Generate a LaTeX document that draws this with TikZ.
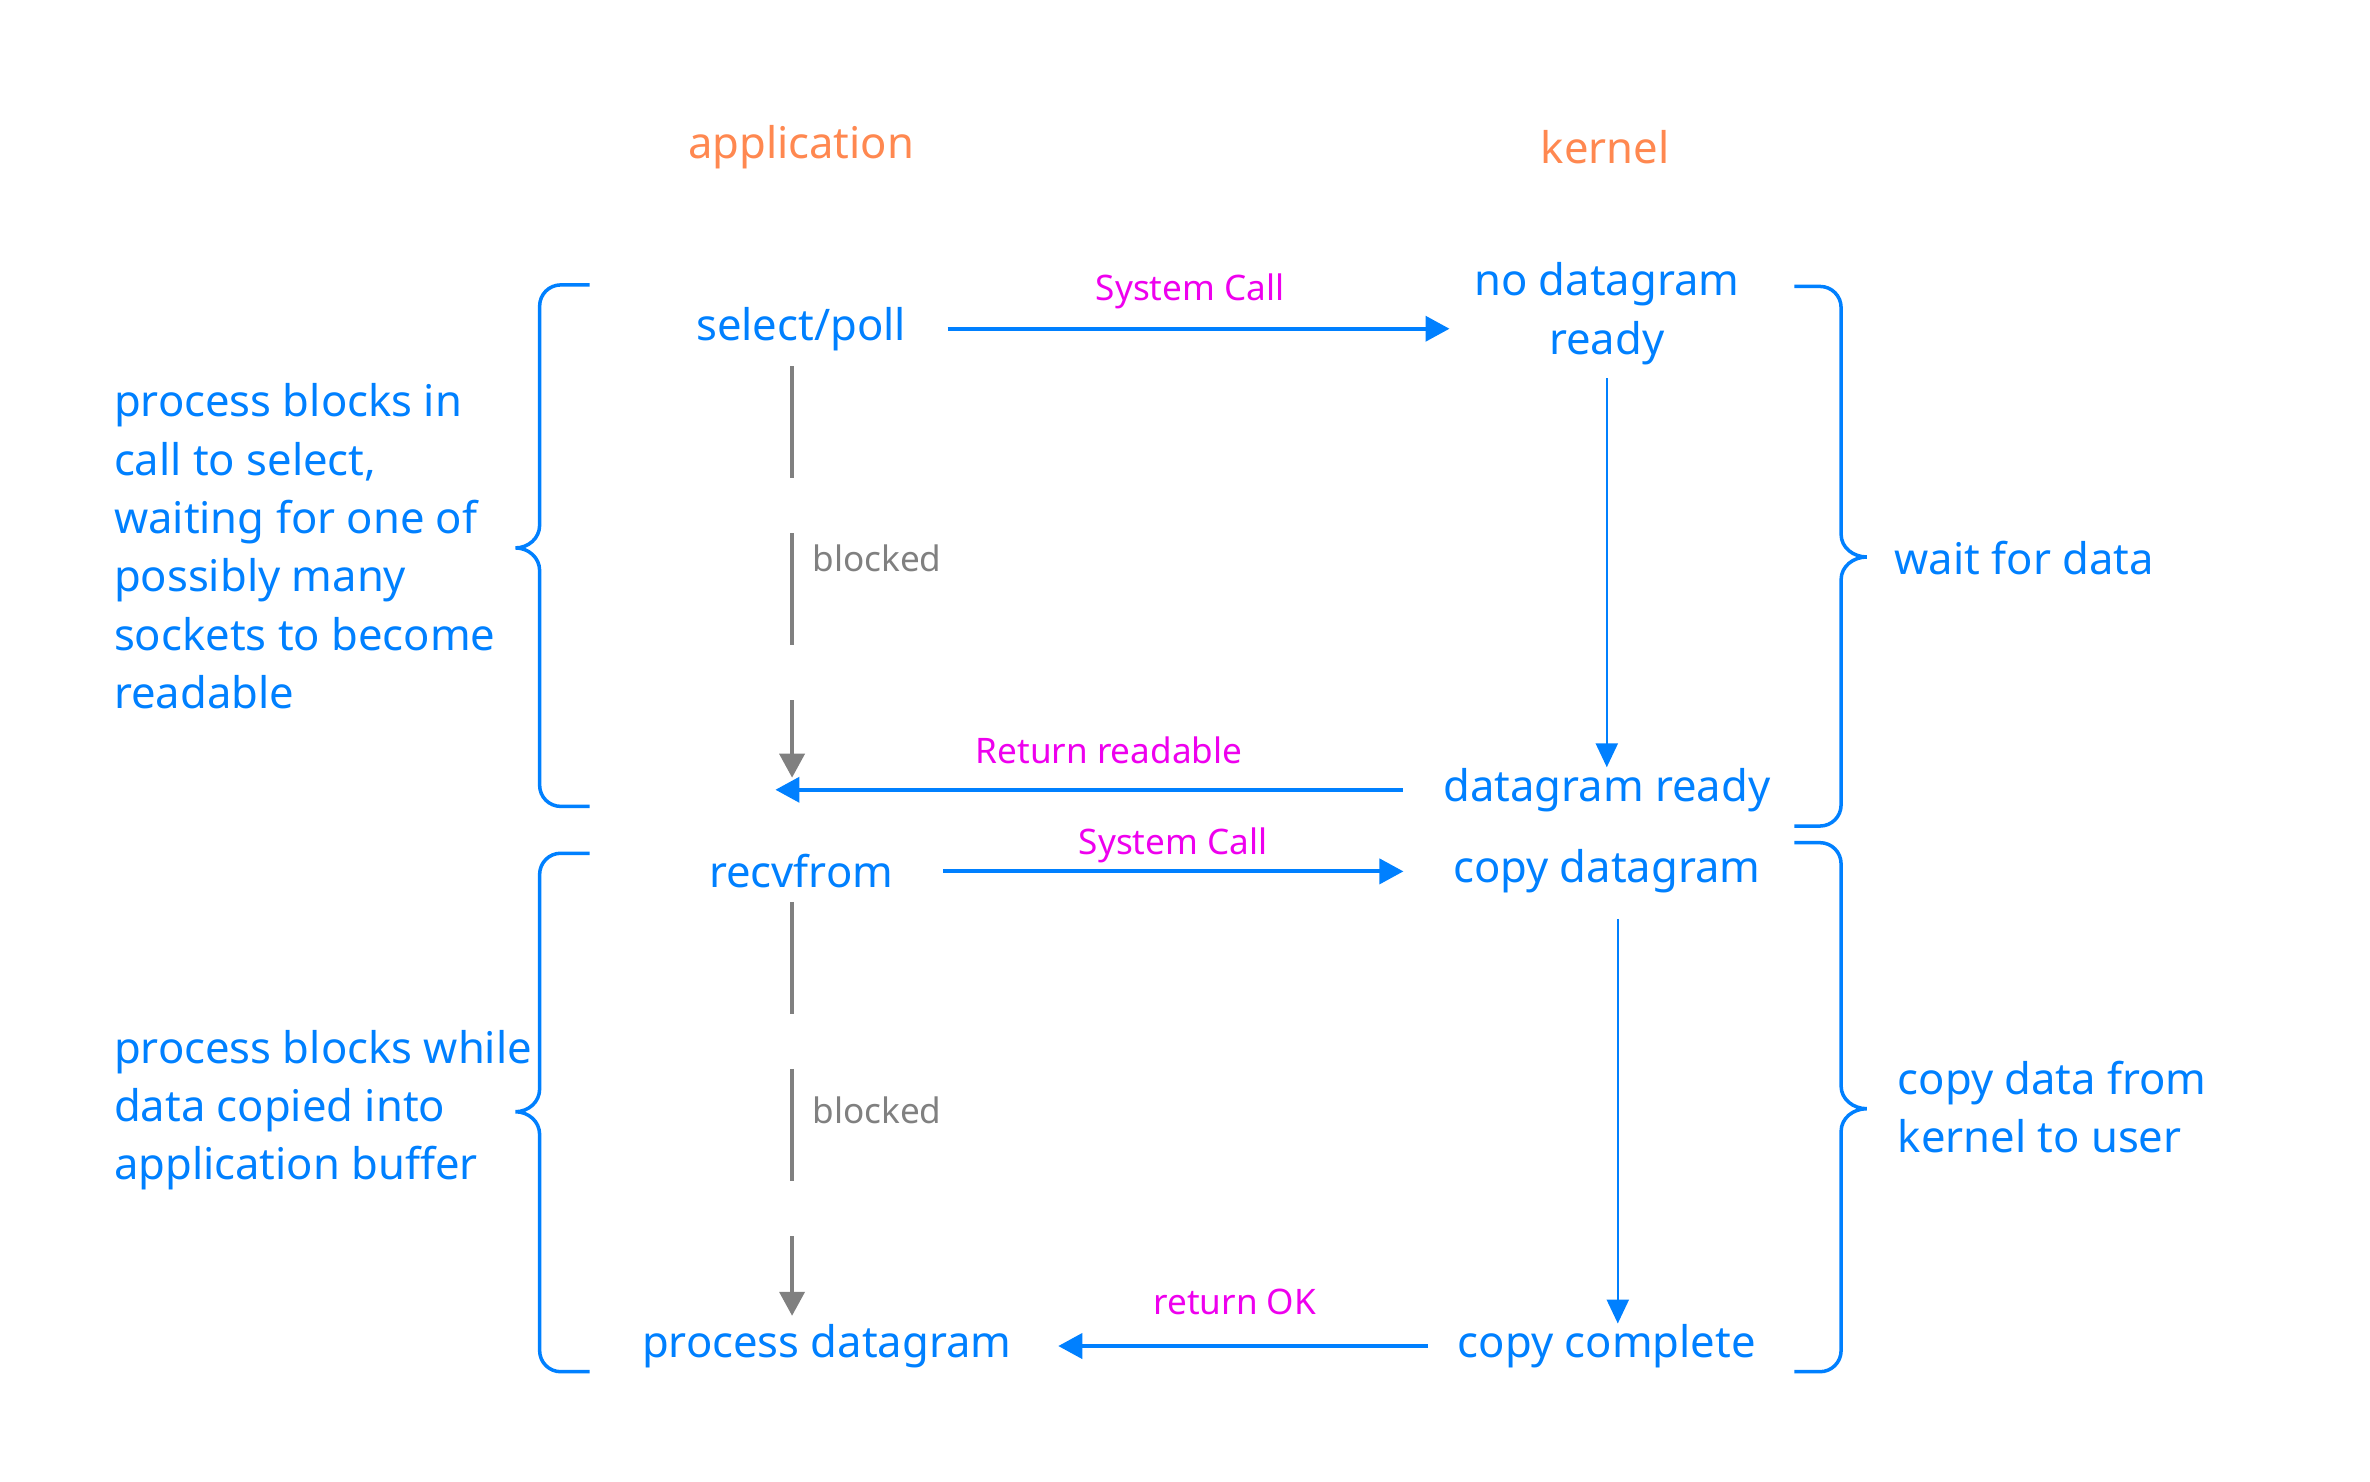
\documentclass[tikz,border=0pt]{standalone}
\usepackage{fontspec}
\setmainfont{Noto Sans}
\usetikzlibrary{arrows.meta}
\definecolor{callblue}{RGB}{0,128,255}
\definecolor{msgpink}{RGB}{238,0,238}
\definecolor{headorange}{RGB}{255,136,80}
\definecolor{blockgray}{RGB}{128,128,128}
\tikzstyle{heading}=[text=headorange, inner sep=0pt, font=\fontsize{12.4}{16.6}\selectfont]
\tikzstyle{state}=[text=callblue, inner sep=0pt, align=center, font=\fontsize{12.4}{16.6}\selectfont]
\tikzstyle{note}=[text=callblue, inner sep=0pt, align=left, anchor=west, font=\fontsize{12.4}{16.6}\selectfont]
\tikzstyle{msg-label}=[text=msgpink, inner sep=0pt, font=\fontsize{10}{12}\selectfont]
\tikzstyle{blocked-label}=[text=blockgray, inner sep=0pt, anchor=west, font=\fontsize{10}{12}\selectfont]
\tikzstyle{call-edge} = [draw, callblue, line width=1.1pt, -{Triangle[length=2.4mm,width=2.5mm]}]
\tikzstyle{flow-edge} = [draw, callblue, line width=0.7pt, -{Triangle[length=2.4mm,width=2.2mm]}]
\tikzstyle{blocked-edge} = [draw, blockgray, line width=1.1pt, dash pattern=on 11.2mm off 5.5mm,
                            -{Triangle[length=2.4mm,width=2.5mm]}]
\tikzstyle{bracket} = [draw, callblue, line width=1pt]
\begin{document}
\begin{tikzpicture}[x=0.15116mm, y=0.15116mm]
    \useasboundingbox (0,-2.9) rectangle (1567.9,977.5);
    % First we draw the column headings and the states
    \node[heading] (app) at (530,880) {application};
    \node[heading] (kern) at (1062,880) {kernel};
    \foreach \pos/\name/\text in {{(530,760)/select/{select/poll}}, {(1063,770)/nodata/no datagram\\ready},
        {(1063,455)/datardy/datagram ready}, {(530,401)/recv/recvfrom},
        {(1063,401)/copydg/copy datagram}, {(1063,87)/copycmp/copy complete},
        {(547,87)/procdg/process datagram}}
      \node[state] (\name) at \pos {\text};
    % Notes beside the braces
    \node[note] (waitnote) at (75,616) {process blocks in\\call to select,\\waiting for one of\\possibly many\\sockets to become\\readable};
    \node[note] (copynote) at (75,243) {process blocks while\\data copied into\\application buffer};
    \node[note] (waitdata) at (1253,608) {wait for data};
    \node[note] (copydata) at (1255,245) {copy data from\\kernel to user};
    \node[blocked-label] (blk1) at (537,608) {blocked};
    \node[blocked-label] (blk2) at (537,243) {blocked};
    \coordinate (wake1) at (524,463);
    \coordinate (wake2) at (524,107);
    \coordinate (ret) at (513,453);
    % Braces
    \foreach \top/\tip/\bot in {789/615/444, 413/242/70}
      \path[bracket] (390,\top) -- (371,\top) to[out=180,in=90] (357,{\top-14}) -- (357,{\tip+15})
        to[out=-90,in=0] (341,\tip) to[out=0,in=90] (357,{\tip-15}) -- (357,{\bot+14})
        to[out=-90,in=180] (371,\bot) -- (390,\bot);
    \foreach \top/\tip/\bot in {788/609/431, 420/244/70}
      \path[bracket] (1187,\top) -- (1204,\top) to[out=0,in=90] (1218,{\top-14}) -- (1218,{\tip+15})
        to[out=-90,in=180] (1235,\tip) to[out=180,in=90] (1218,{\tip-15}) -- (1218,{\bot+14})
        to[out=-90,in=0] (1204,\bot) -- (1187,\bot);
    % Connect states with calls and returns
    \path[call-edge, shorten <=4.1mm, shorten >=2.4mm] (select.east) -- (select.east -| nodata.west)
      node[msg-label, midway, above=1.8mm] (sc1) {System Call};
    \path[flow-edge, shorten <=1.3mm] (nodata.south) -- (datardy.north);
    \path[call-edge, shorten <=4mm] (datardy.west) -- (datardy.west -| ret)
      node[msg-label, midway, above=2.4mm] (rr) {Return readable};
    \path[call-edge, shorten <=4.9mm, shorten >=4.9mm] (recv.east) -- (copydg.west)
      node[msg-label, midway, above=0.7mm] (sc2) {System Call};
    \path[flow-edge, shorten <=2.5mm] ([xshift=1.1mm]copydg.south) -- ([xshift=1.1mm]copycmp.north);
    \path[call-edge, shorten <=2.9mm, shorten >=4.6mm] (copycmp.west) -- (procdg.east)
      node[msg-label, midway, above=2.9mm] (ok) {return OK};
    % Blocked waits in the application
    \path[blocked-edge, shorten <=1.5mm] (select.south -| wake1) -- (wake1);
    \path[blocked-edge, shorten <=1.3mm] (recv.south -| wake2) -- (wake2);
\end{tikzpicture}
\end{document}
